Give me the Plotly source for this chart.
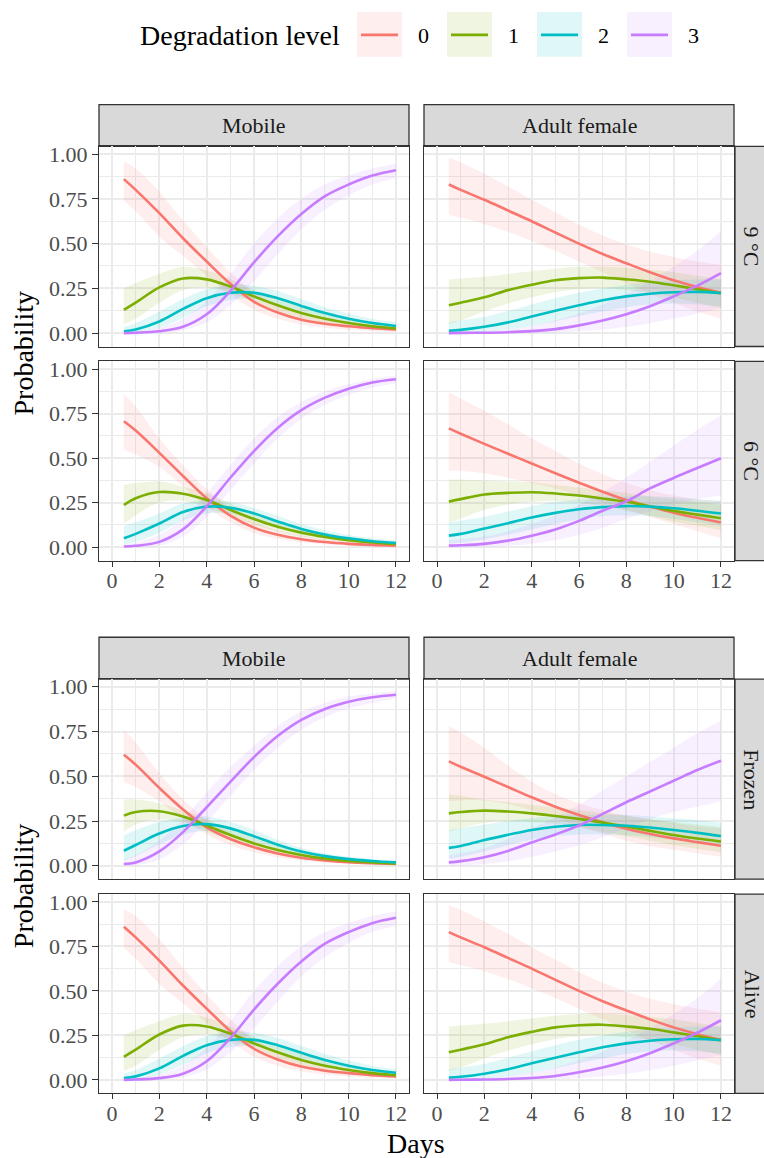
import plotly.graph_objects as go

# ---------------- data ----------------
X_DAYS = [0.5, 1, 2, 3, 4, 5, 6, 7, 8, 9, 10, 11, 12]
LEVELS = ["0", "1", "2", "3"]
COLORS = ["#F8766D", "#7CAE00", "#00BFC4", "#C77CFF"]
COL_LABELS = ["Mobile", "Adult female"]
ROW_LABELS = ["9 °C", "6 °C", "Frozen", "Alive"]
X_TICKS = [0, 2, 4, 6, 8, 10, 12]
Y_TICKS = [0, 0.25, 0.5, 0.75, 1.0]
Y_TICK_TEXT = ["0.00", "0.25", "0.50", "0.75", "1.00"]

# 9 °C - Mobile
MOB_9C = [
    [0.86, 0.80, 0.67, 0.53, 0.40, 0.275, 0.175, 0.115, 0.075, 0.052, 0.038, 0.027, 0.02],
    [0.13, 0.17, 0.255, 0.305, 0.30, 0.26, 0.205, 0.155, 0.112, 0.08, 0.056, 0.038, 0.026],
    [0.01, 0.02, 0.065, 0.135, 0.195, 0.225, 0.225, 0.195, 0.152, 0.112, 0.08, 0.056, 0.04],
    [0.0, 0.002, 0.01, 0.035, 0.105, 0.235, 0.395, 0.54, 0.665, 0.765, 0.83, 0.88, 0.91],
]
MOB_9C_LO = [
    [0.74, 0.68, 0.54, 0.43, 0.32, 0.215, 0.13, 0.08, 0.048, 0.03, 0.019, 0.012, 0.008],
    [0.05, 0.08, 0.17, 0.24, 0.255, 0.225, 0.175, 0.125, 0.085, 0.057, 0.037, 0.024, 0.015],
    [0.0, 0.005, 0.03, 0.085, 0.15, 0.185, 0.19, 0.16, 0.12, 0.085, 0.057, 0.038, 0.025],
    [0.0, 0.0, 0.002, 0.015, 0.06, 0.155, 0.29, 0.44, 0.58, 0.69, 0.77, 0.83, 0.865],
]
MOB_9C_HI = [
    [0.96, 0.92, 0.79, 0.63, 0.48, 0.34, 0.23, 0.16, 0.11, 0.08, 0.06, 0.045, 0.035],
    [0.25, 0.28, 0.33, 0.37, 0.35, 0.30, 0.24, 0.19, 0.145, 0.11, 0.08, 0.058, 0.042],
    [0.035, 0.055, 0.12, 0.19, 0.245, 0.27, 0.265, 0.235, 0.19, 0.145, 0.11, 0.08, 0.06],
    [0.005, 0.01, 0.03, 0.08, 0.18, 0.33, 0.50, 0.64, 0.75, 0.83, 0.88, 0.92, 0.945],
]

# 9 °C - Adult female
AF_9C = [
    [0.83, 0.80, 0.745, 0.685, 0.625, 0.562, 0.50, 0.442, 0.39, 0.34, 0.295, 0.257, 0.225],
    [0.155, 0.17, 0.20, 0.24, 0.27, 0.295, 0.307, 0.31, 0.30, 0.287, 0.267, 0.245, 0.222],
    [0.013, 0.018, 0.035, 0.06, 0.093, 0.125, 0.155, 0.183, 0.205, 0.22, 0.228, 0.23, 0.224],
    [0.0, 0.001, 0.002, 0.005, 0.011, 0.022, 0.043, 0.07, 0.105, 0.15, 0.205, 0.265, 0.335],
]
AF_9C_LO = [
    [0.66, 0.645, 0.61, 0.565, 0.515, 0.46, 0.40, 0.34, 0.28, 0.22, 0.17, 0.12, 0.08],
    [0.05, 0.07, 0.12, 0.165, 0.20, 0.23, 0.245, 0.25, 0.24, 0.225, 0.20, 0.17, 0.14],
    [0.0, 0.002, 0.008, 0.02, 0.04, 0.065, 0.095, 0.12, 0.145, 0.16, 0.165, 0.16, 0.15],
    [0.0, 0.0, 0.0, 0.0, 0.001, 0.004, 0.01, 0.02, 0.035, 0.055, 0.08, 0.11, 0.14],
]
AF_9C_HI = [
    [0.98, 0.955, 0.89, 0.82, 0.745, 0.675, 0.605, 0.545, 0.495, 0.455, 0.425, 0.40, 0.38],
    [0.30, 0.305, 0.315, 0.33, 0.345, 0.36, 0.37, 0.37, 0.365, 0.355, 0.34, 0.32, 0.30],
    [0.06, 0.07, 0.09, 0.125, 0.16, 0.195, 0.225, 0.25, 0.27, 0.285, 0.295, 0.30, 0.30],
    [0.003, 0.005, 0.01, 0.02, 0.04, 0.07, 0.11, 0.16, 0.22, 0.29, 0.37, 0.46, 0.57],
]

# 6 °C - Mobile
MOB_6C = [
    [0.707, 0.655, 0.53, 0.40, 0.275, 0.178, 0.11, 0.07, 0.045, 0.029, 0.019, 0.013, 0.009],
    [0.237, 0.275, 0.31, 0.30, 0.265, 0.21, 0.158, 0.115, 0.082, 0.058, 0.04, 0.027, 0.018],
    [0.05, 0.075, 0.133, 0.198, 0.228, 0.222, 0.19, 0.145, 0.103, 0.072, 0.05, 0.034, 0.024],
    [0.004, 0.008, 0.03, 0.10, 0.23, 0.39, 0.54, 0.67, 0.77, 0.84, 0.89, 0.925, 0.943],
]
MOB_6C_LO = [
    [0.55, 0.52, 0.45, 0.34, 0.225, 0.14, 0.08, 0.048, 0.028, 0.017, 0.01, 0.006, 0.004],
    [0.13, 0.18, 0.25, 0.26, 0.225, 0.175, 0.125, 0.088, 0.06, 0.04, 0.026, 0.016, 0.01],
    [0.015, 0.03, 0.08, 0.15, 0.19, 0.19, 0.16, 0.118, 0.08, 0.053, 0.035, 0.022, 0.014],
    [0.0, 0.001, 0.01, 0.06, 0.17, 0.32, 0.47, 0.61, 0.72, 0.80, 0.855, 0.895, 0.92],
]
MOB_6C_HI = [
    [0.86, 0.79, 0.61, 0.46, 0.325, 0.22, 0.145, 0.095, 0.065, 0.045, 0.032, 0.023, 0.018],
    [0.35, 0.36, 0.37, 0.34, 0.305, 0.245, 0.19, 0.145, 0.108, 0.08, 0.058, 0.042, 0.03],
    [0.12, 0.14, 0.19, 0.245, 0.265, 0.255, 0.22, 0.175, 0.13, 0.095, 0.068, 0.05, 0.038],
    [0.015, 0.025, 0.07, 0.16, 0.30, 0.46, 0.61, 0.73, 0.815, 0.875, 0.915, 0.945, 0.963],
]

# 6 °C - Adult female
AF_6C = [
    [0.667, 0.637, 0.58, 0.525, 0.47, 0.415, 0.362, 0.312, 0.265, 0.228, 0.194, 0.165, 0.139],
    [0.256, 0.27, 0.296, 0.305, 0.309, 0.302, 0.29, 0.274, 0.255, 0.23, 0.204, 0.183, 0.163],
    [0.065, 0.075, 0.105, 0.135, 0.167, 0.193, 0.213, 0.225, 0.231, 0.228, 0.219, 0.205, 0.189],
    [0.009, 0.011, 0.019, 0.037, 0.065, 0.10, 0.148, 0.205, 0.258, 0.33, 0.389, 0.445, 0.50],
]
AF_6C_LO = [
    [0.43, 0.43, 0.415, 0.39, 0.36, 0.33, 0.29, 0.25, 0.21, 0.17, 0.13, 0.09, 0.05],
    [0.14, 0.16, 0.21, 0.24, 0.255, 0.26, 0.25, 0.23, 0.205, 0.175, 0.145, 0.12, 0.095],
    [0.02, 0.025, 0.045, 0.07, 0.10, 0.13, 0.155, 0.175, 0.18, 0.175, 0.16, 0.14, 0.12],
    [0.0, 0.0, 0.002, 0.008, 0.02, 0.04, 0.07, 0.11, 0.16, 0.20, 0.24, 0.27, 0.29],
]
AF_6C_HI = [
    [0.87, 0.835, 0.765, 0.69, 0.61, 0.54, 0.47, 0.41, 0.36, 0.32, 0.29, 0.27, 0.26],
    [0.38, 0.38, 0.375, 0.37, 0.365, 0.35, 0.335, 0.32, 0.305, 0.285, 0.27, 0.255, 0.24],
    [0.14, 0.15, 0.17, 0.20, 0.23, 0.255, 0.27, 0.28, 0.285, 0.285, 0.28, 0.27, 0.26],
    [0.04, 0.045, 0.06, 0.09, 0.13, 0.18, 0.24, 0.31, 0.39, 0.48, 0.57, 0.66, 0.74],
]

# Frozen - Mobile
MOB_FROZEN = [
    [0.62, 0.565, 0.435, 0.315, 0.215, 0.15, 0.103, 0.069, 0.045, 0.03, 0.02, 0.014, 0.01],
    [0.28, 0.30, 0.305, 0.275, 0.225, 0.172, 0.125, 0.088, 0.06, 0.04, 0.027, 0.018, 0.012],
    [0.084, 0.116, 0.18, 0.222, 0.233, 0.209, 0.165, 0.118, 0.08, 0.054, 0.037, 0.027, 0.019],
    [0.01, 0.019, 0.08, 0.188, 0.327, 0.469, 0.607, 0.725, 0.815, 0.876, 0.916, 0.941, 0.955],
]
MOB_FROZEN_LO = [
    [0.47, 0.44, 0.36, 0.26, 0.175, 0.115, 0.075, 0.048, 0.03, 0.019, 0.012, 0.008, 0.005],
    [0.19, 0.23, 0.26, 0.24, 0.19, 0.14, 0.097, 0.065, 0.042, 0.027, 0.017, 0.011, 0.007],
    [0.03, 0.055, 0.12, 0.175, 0.195, 0.175, 0.135, 0.094, 0.062, 0.04, 0.026, 0.018, 0.012],
    [0.0, 0.002, 0.035, 0.12, 0.245, 0.39, 0.535, 0.66, 0.76, 0.83, 0.88, 0.91, 0.935],
]
MOB_FROZEN_HI = [
    [0.76, 0.69, 0.515, 0.37, 0.26, 0.185, 0.135, 0.095, 0.065, 0.045, 0.032, 0.023, 0.017],
    [0.37, 0.37, 0.35, 0.31, 0.26, 0.205, 0.155, 0.113, 0.08, 0.056, 0.039, 0.027, 0.019],
    [0.17, 0.20, 0.245, 0.27, 0.275, 0.245, 0.20, 0.145, 0.10, 0.07, 0.05, 0.037, 0.028],
    [0.04, 0.06, 0.14, 0.26, 0.41, 0.55, 0.67, 0.78, 0.86, 0.91, 0.945, 0.963, 0.975],
]

# Frozen - Adult female
AF_FROZEN = [
    [0.583, 0.553, 0.497, 0.44, 0.383, 0.33, 0.284, 0.243, 0.207, 0.178, 0.153, 0.132, 0.112],
    [0.293, 0.30, 0.308, 0.303, 0.293, 0.278, 0.262, 0.241, 0.219, 0.195, 0.172, 0.152, 0.135],
    [0.10, 0.11, 0.144, 0.173, 0.20, 0.218, 0.228, 0.228, 0.224, 0.214, 0.20, 0.184, 0.166],
    [0.019, 0.026, 0.048, 0.083, 0.13, 0.175, 0.225, 0.29, 0.355, 0.415, 0.475, 0.535, 0.587],
]
AF_FROZEN_LO = [
    [0.36, 0.365, 0.365, 0.345, 0.31, 0.27, 0.22, 0.18, 0.14, 0.11, 0.09, 0.07, 0.05],
    [0.19, 0.21, 0.24, 0.25, 0.245, 0.235, 0.215, 0.19, 0.165, 0.14, 0.115, 0.095, 0.075],
    [0.04, 0.05, 0.08, 0.115, 0.145, 0.165, 0.175, 0.175, 0.17, 0.16, 0.145, 0.13, 0.11],
    [0.0, 0.002, 0.01, 0.025, 0.05, 0.08, 0.115, 0.16, 0.21, 0.26, 0.30, 0.33, 0.36],
]
AF_FROZEN_HI = [
    [0.78, 0.745, 0.66, 0.56, 0.47, 0.40, 0.35, 0.31, 0.28, 0.26, 0.24, 0.22, 0.21],
    [0.40, 0.39, 0.37, 0.355, 0.34, 0.325, 0.31, 0.295, 0.28, 0.26, 0.245, 0.23, 0.215],
    [0.20, 0.21, 0.23, 0.25, 0.265, 0.28, 0.285, 0.285, 0.285, 0.275, 0.265, 0.255, 0.24],
    [0.06, 0.07, 0.10, 0.15, 0.21, 0.27, 0.34, 0.42, 0.50, 0.58, 0.66, 0.74, 0.81],
]

# Alive - the reference panels read the same as the 9 °C ones
MOB_ALIVE = [list(v) for v in MOB_9C]
MOB_ALIVE_LO = [list(v) for v in MOB_9C_LO]
MOB_ALIVE_HI = [list(v) for v in MOB_9C_HI]
AF_ALIVE = [list(v) for v in AF_9C]
AF_ALIVE_LO = [list(v) for v in AF_9C_LO]
AF_ALIVE_HI = [list(v) for v in AF_9C_HI]

PANELS = [
    (0, 0, MOB_9C, MOB_9C_LO, MOB_9C_HI),
    (0, 1, AF_9C, AF_9C_LO, AF_9C_HI),
    (1, 0, MOB_6C, MOB_6C_LO, MOB_6C_HI),
    (1, 1, AF_6C, AF_6C_LO, AF_6C_HI),
    (2, 0, MOB_FROZEN, MOB_FROZEN_LO, MOB_FROZEN_HI),
    (2, 1, AF_FROZEN, AF_FROZEN_LO, AF_FROZEN_HI),
    (3, 0, MOB_ALIVE, MOB_ALIVE_LO, MOB_ALIVE_HI),
    (3, 1, AF_ALIVE, AF_ALIVE_LO, AF_ALIVE_HI),
]

# ---------------- layout geometry (pixels) ----------------
W, H = 764, 1158
COL_PX = [(99, 409), (424, 734)]
ROW_PX = [(142, 343), (358, 558), (677, 878), (893, 1093)]
STRIP_TOP_PX = {0: (100, 142), 2: (635, 677)}
RIGHT_STRIP_PX = (735, 777)
FONT = "Liberation Serif, Times New Roman, serif"
GRID = "#ebebeb"
BORDER = "#333333"


def px_x(p):
    return p / W


def px_y(p):
    return 1 - p / H


def rgba(hex_color, a):
    h = hex_color.lstrip("#")
    r, g, b = int(h[0:2], 16), int(h[2:4], 16), int(h[4:6], 16)
    return f"rgba({r},{g},{b},{a})"


fig = go.Figure()
layout = {}

for i, (row, col, mean, lo, hi) in enumerate(PANELS, start=1):
    xa = "x" if i == 1 else f"x{i}"
    ya = "y" if i == 1 else f"y{i}"
    # ribbons
    for k in range(4):
        fig.add_trace(go.Scatter(x=X_DAYS, y=lo[k], mode="lines", xaxis=xa, yaxis=ya,
                                 line=dict(width=0, shape="spline", color=rgba(COLORS[k], 0)),
                                 showlegend=False, hoverinfo="skip"))
        fig.add_trace(go.Scatter(x=X_DAYS, y=hi[k], mode="lines", xaxis=xa, yaxis=ya,
                                 fill="tonexty", fillcolor=rgba(COLORS[k], 0.12),
                                 line=dict(width=0, shape="spline", color=rgba(COLORS[k], 0)),
                                 showlegend=False, hoverinfo="skip"))
    # lines
    for k in range(4):
        fig.add_trace(go.Scatter(x=X_DAYS, y=mean[k], mode="lines", xaxis=xa, yaxis=ya,
                                 name=LEVELS[k],
                                 line=dict(width=2.6, shape="spline", color=COLORS[k]),
                                 showlegend=False))

    bottom = row in (1, 3)
    left = col == 0
    x0, x1 = COL_PX[col]
    y0, y1 = ROW_PX[row]
    key = "" if i == 1 else str(i)
    layout["xaxis" + key] = dict(
        domain=[px_x(x0), px_x(x1)], anchor=ya, range=[-0.55, 12.55],
        tickvals=X_TICKS, showticklabels=bottom, ticks="outside" if bottom else "",
        ticklen=5, tickwidth=1.1, tickcolor=BORDER, ticklabelstandoff=-5,
        tickfont=dict(family=FONT, size=22, color="#4d4d4d"),
        showgrid=True, gridcolor=GRID, gridwidth=1.6, zeroline=False,
        minor=dict(tickvals=[1, 3, 5, 7, 9, 11], showgrid=True, gridcolor=GRID, gridwidth=0.8),
        showline=True, mirror=True, linecolor=BORDER, linewidth=1.3, fixedrange=True,
    )
    layout["yaxis" + key] = dict(
        domain=[px_y(y1), px_y(y0)], anchor=xa, range=[-0.075, 1.043],
        tickvals=Y_TICKS, ticktext=Y_TICK_TEXT, showticklabels=left,
        ticks="outside" if left else "", ticklen=6, tickwidth=1.1, tickcolor=BORDER,
        tickfont=dict(family=FONT, size=22, color="#4d4d4d"),
        showgrid=True, gridcolor=GRID, gridwidth=1.6, zeroline=False,
        minor=dict(tickvals=[0.125, 0.375, 0.625, 0.875], showgrid=True, gridcolor=GRID, gridwidth=0.8),
        showline=True, mirror=True, linecolor=BORDER, linewidth=1.3, fixedrange=True,
    )

shapes = []
annotations = []

# top strips
for row, (sy0, sy1) in STRIP_TOP_PX.items():
    for col, (x0, x1) in enumerate(COL_PX):
        shapes.append(dict(type="rect", xref="paper", yref="paper",
                           x0=px_x(x0), x1=px_x(x1), y0=px_y(sy1), y1=px_y(sy0),
                           fillcolor="#d9d9d9", line=dict(color=BORDER, width=1.3), layer="below"))
        annotations.append(dict(text=COL_LABELS[col], xref="paper", yref="paper",
                                x=px_x((x0 + x1) / 2), y=px_y((sy0 + sy1) / 2),
                                showarrow=False, xanchor="center", yanchor="middle",
                                font=dict(family=FONT, size=22, color="#1a1a1a")))

# right strips
for row, (y0, y1) in enumerate(ROW_PX):
    rx0, rx1 = RIGHT_STRIP_PX
    shapes.append(dict(type="rect", xref="paper", yref="paper",
                       x0=px_x(rx0), x1=px_x(rx1), y0=px_y(y1), y1=px_y(y0),
                       fillcolor="#d9d9d9", line=dict(color=BORDER, width=1.3), layer="below"))
    annotations.append(dict(text=ROW_LABELS[row], xref="paper", yref="paper",
                            x=px_x(752), y=px_y((y0 + y1) / 2), textangle=90,
                            showarrow=False, xanchor="center", yanchor="middle",
                            font=dict(family=FONT, size=22, color="#1a1a1a")))

# axis titles
for cy in (350, 885):
    annotations.append(dict(text="Probability", xref="paper", yref="paper",
                            x=px_x(23), y=px_y(cy), textangle=-90, showarrow=False,
                            xanchor="center", yanchor="middle",
                            font=dict(family=FONT, size=28, color="black")))
annotations.append(dict(text="Days", xref="paper", yref="paper", x=px_x(416), y=px_y(1143),
                        showarrow=False, xanchor="center", yanchor="middle",
                        font=dict(family=FONT, size=28, color="black")))

# legend (drawn by hand in ggplot style)
annotations.append(dict(text="Degradation level", xref="paper", yref="paper",
                        x=px_x(138), y=px_y(31), showarrow=False, xanchor="left", yanchor="middle",
                        font=dict(family=FONT, size=28, color="black")))
KEY_X = [357, 447, 537, 627]
for k in range(4):
    kx = KEY_X[k]
    shapes.append(dict(type="rect", xref="paper", yref="paper",
                       x0=px_x(kx), x1=px_x(kx + 45), y0=px_y(52), y1=px_y(7),
                       fillcolor=rgba(COLORS[k], 0.12), line=dict(width=0)))
    shapes.append(dict(type="line", xref="paper", yref="paper",
                       x0=px_x(kx + 4), x1=px_x(kx + 41), y0=px_y(30), y1=px_y(30),
                       line=dict(color=COLORS[k], width=2.6)))
    annotations.append(dict(text=LEVELS[k], xref="paper", yref="paper",
                            x=px_x(kx + 66), y=px_y(31), showarrow=False,
                            xanchor="center", yanchor="middle",
                            font=dict(family=FONT, size=22, color="black")))

fig.update_layout(
    width=W, height=H, autosize=False,
    margin=dict(l=0, r=0, t=0, b=0),
    paper_bgcolor="white", plot_bgcolor="white",
    showlegend=False, shapes=shapes, annotations=annotations,
    **layout,
)

fig.write_html(
    "out.html",
    config={"displayModeBar": False},
    post_script="document.body.style.margin='0';document.body.style.overflow='hidden';",
)
